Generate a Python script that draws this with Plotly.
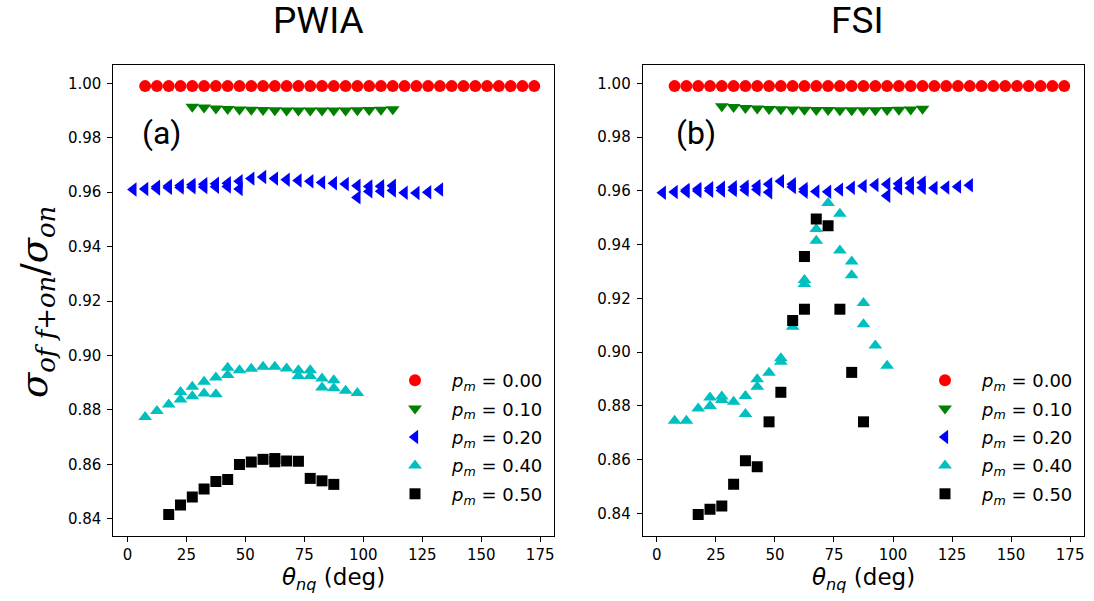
import plotly.graph_objects as go

# ---------------- data ----------------
red_x = [7.5, 12.5, 17.5, 22.5, 27.5, 32.5, 37.5, 42.5, 47.5, 52.5, 57.5, 62.5,
         67.5, 72.5, 77.5, 82.5, 87.5, 92.5, 97.5, 102.5, 107.5, 112.5, 117.5,
         122.5, 127.5, 132.5, 137.5, 142.5, 147.5, 152.5, 157.5, 162.5, 167.5, 172.5]
red_y_pwia = [0.999, 0.999, 0.999, 0.999, 0.999, 0.999, 0.999, 0.999, 0.999, 0.999,
              0.999, 0.999, 0.999, 0.999, 0.999, 0.999, 0.999, 0.999, 0.999, 0.999,
              0.999, 0.999, 0.999, 0.999, 0.999, 0.999, 0.999, 0.999, 0.999, 0.999,
              0.999, 0.999, 0.999, 0.999]
red_y_fsi = [0.999, 0.999, 0.999, 0.999, 0.999, 0.999, 0.999, 0.999, 0.999, 0.999,
             0.999, 0.999, 0.999, 0.999, 0.999, 0.999, 0.999, 0.999, 0.999, 0.999,
             0.999, 0.999, 0.999, 0.999, 0.999, 0.999, 0.999, 0.999, 0.999, 0.999,
             0.999, 0.999, 0.999, 0.999]

green_x = [27.5, 32.5, 37.5, 42.5, 47.5, 52.5, 57.5, 62.5, 67.5, 72.5, 77.5, 82.5,
           87.5, 92.5, 97.5, 102.5, 107.5, 112.5]
green_y_pwia = [0.9914, 0.9911, 0.9908, 0.9906, 0.9904, 0.9903, 0.9902, 0.9901, 0.9900,
                0.9900, 0.9900, 0.9900, 0.9900, 0.9900, 0.9901, 0.9902, 0.9903, 0.9905]
green_y_fsi = [0.9915, 0.9912, 0.9909, 0.9907, 0.9905, 0.9904, 0.9903, 0.9902, 0.9901,
               0.9901, 0.9900, 0.9900, 0.9900, 0.9900, 0.9901, 0.9902, 0.9903, 0.9906]

blue_x = [2.5, 7.5, 12.5, 12.5, 17.5, 17.5, 22.5, 22.5, 27.5, 27.5, 32.5, 32.5,
          37.5, 37.5, 42.5, 42.5, 47.5, 47.5, 52.5, 57.5, 62.5, 67.5, 72.5, 77.5,
          82.5, 87.5, 92.5, 97.5, 97.5, 102.5, 102.5, 107.5, 107.5, 112.5, 112.5,
          117.5, 122.5, 127.5, 132.5]
blue_y_pwia = [0.9610, 0.9612, 0.9614, 0.9620, 0.9616, 0.9623, 0.9617, 0.9625, 0.9618,
               0.9627, 0.9619, 0.9629, 0.9620, 0.9631, 0.9621, 0.9633, 0.9612, 0.9640,
               0.9650, 0.9656, 0.9650, 0.9646, 0.9643, 0.9640, 0.9636, 0.9633, 0.9630,
               0.9624, 0.9581, 0.9621, 0.9603, 0.9622, 0.9604, 0.9624, 0.9606, 0.9598,
               0.9597, 0.9600, 0.9610]
blue_x_fsi = [2.5, 7.5, 12.5, 12.5, 17.5, 17.5, 22.5, 22.5, 27.5, 27.5, 32.5, 32.5,
              37.5, 37.5, 42.5, 42.5, 47.5, 47.5, 52.5, 57.5, 57.5, 62.5, 62.5, 67.5,
              72.5, 77.5, 82.5, 87.5, 92.5, 97.5, 97.5, 102.5, 102.5, 107.5, 107.5,
              112.5, 112.5, 117.5, 122.5, 127.5, 132.5]
blue_y_fsi = [0.9593, 0.9596, 0.9598, 0.9604, 0.9600, 0.9607, 0.9601, 0.9610, 0.9602,
              0.9612, 0.9603, 0.9614, 0.9604, 0.9616, 0.9605, 0.9618, 0.9595, 0.9625,
              0.9636, 0.9625, 0.9615, 0.9607, 0.9597, 0.9598, 0.9597, 0.9605, 0.9612,
              0.9618, 0.9622, 0.9625, 0.9582, 0.9627, 0.9610, 0.9629, 0.9611, 0.9631,
              0.9612, 0.9611, 0.9613, 0.9616, 0.9621]

cyan_x_pwia = [7.5, 12.5, 17.5, 22.5, 22.5, 27.5, 27.5, 32.5, 32.5, 37.5, 37.5, 42.5,
               42.5, 47.5, 52.5, 57.5, 62.5, 67.5, 72.5, 72.5, 77.5, 77.5, 82.5, 82.5,
               87.5, 87.5, 92.5, 97.5]
cyan_y_pwia = [0.8774, 0.8796, 0.8820, 0.8838, 0.8866, 0.8850, 0.8885, 0.8860, 0.8903,
               0.8857, 0.8919, 0.8928, 0.8955, 0.8946, 0.8951, 0.8958, 0.8958, 0.8952,
               0.8946, 0.8924, 0.8946, 0.8924, 0.8915, 0.8882, 0.8909, 0.8879, 0.8870,
               0.8862]
cyan_x_fsi = [7.5, 12.5, 17.5, 22.5, 22.5, 27.5, 27.5, 32.5, 37.5, 37.5, 42.5, 42.5,
              47.5, 52.5, 52.5, 57.5, 62.5, 62.5, 67.5, 67.5, 72.5, 77.5, 77.5, 82.5,
              82.5, 87.5, 87.5, 92.5, 97.5]
cyan_y_fsi = [0.8745, 0.8745, 0.8791, 0.8832, 0.8800, 0.8835, 0.8822, 0.8816, 0.8837,
              0.8770, 0.8899, 0.8872, 0.8924, 0.8978, 0.8965, 0.9095, 0.9269, 0.9254,
              0.9458, 0.9415, 0.9555, 0.9515, 0.9378, 0.9338, 0.9286, 0.9183, 0.9104,
              0.9025, 0.8950]

black_x_pwia = [17.5, 22.5, 27.5, 32.5, 37.5, 42.5, 47.5, 52.5, 57.5, 62.5, 62.5, 67.5,
                72.5, 77.5, 82.5, 87.5]
black_y_pwia = [0.8415, 0.8450, 0.8480, 0.8509, 0.8537, 0.8544, 0.8599, 0.8608, 0.8618,
                0.8621, 0.8609, 0.8612, 0.8611, 0.8548, 0.8539, 0.8526]
black_x_fsi = [17.5, 22.5, 27.5, 32.5, 37.5, 42.5, 47.5, 52.5, 57.5, 62.5, 62.5, 67.5,
               72.5, 77.5, 82.5, 87.5]
black_y_fsi = [0.8396, 0.8416, 0.8428, 0.8509, 0.8596, 0.8574, 0.8741, 0.8851, 0.9118,
               0.9356, 0.9160, 0.9496, 0.9471, 0.9160, 0.8925, 0.8741]

legend_labels = ["<i>p</i><sub><i>m</i></sub> = 0.00", "<i>p</i><sub><i>m</i></sub> = 0.10",
                 "<i>p</i><sub><i>m</i></sub> = 0.20", "<i>p</i><sub><i>m</i></sub> = 0.40",
                 "<i>p</i><sub><i>m</i></sub> = 0.50"]
panel_titles = ["PWIA", "FSI"]
panel_tags = ["(a)", "(b)"]
x_ticks = [0, 25, 50, 75, 100, 125, 150, 175]
y_ticks = [0.84, 0.86, 0.88, 0.90, 0.92, 0.94, 0.96, 0.98, 1.00]

# ---------------- styles ----------------
colors = ["#ff0000", "#008000", "#0000ff", "#00bfbf", "#000000"]
symbols = ["circle", "triangle-down", "triangle-left", "triangle-up", "square"]
sizes = [12, 12, 12.5, 12, 11]

# page body margin is removed by a post-script, so the figure fills the window
W, H = 1094, 601
def px_x(p): return p / W
def px_y(p): return 1 - p / H

fig = go.Figure()

panels = [
    dict(series=[(red_x, red_y_pwia), (green_x, green_y_pwia), (blue_x, blue_y_pwia),
                 (cyan_x_pwia, cyan_y_pwia), (black_x_pwia, black_y_pwia)],
         xa="x", ya="y", legend="legend"),
    dict(series=[(red_x, red_y_fsi), (green_x, green_y_fsi), (blue_x_fsi, blue_y_fsi),
                 (cyan_x_fsi, cyan_y_fsi), (black_x_fsi, black_y_fsi)],
         xa="x2", ya="y2", legend="legend2"),
]

for pi, p in enumerate(panels):
    for i, (xs, ys) in enumerate(p["series"]):
        fig.add_trace(go.Scatter(
            x=xs, y=ys, mode="markers", name=legend_labels[i],
            xaxis=p["xa"], yaxis=p["ya"], legend=p["legend"],
            legendgroup=f"g{pi}{i}",
            marker=dict(symbol=symbols[i], color=colors[i], size=sizes[i],
                        line=dict(width=0)),
        ))

def yrange(series):
    allv = [v for _, ys in series for v in ys]
    lo, hi = min(allv), max(allv)
    m = (hi - lo) * 0.05
    return [lo - m, hi + m]

allx = [v for xs, _ in panels[0]["series"] for v in xs]
xm = (max(allx) - min(allx)) * 0.05
xr = [min(allx) - xm, max(allx) + xm]

tickfont = dict(family="DejaVu Sans", size=15, color="black")
axis_common = dict(showline=True, mirror=True, linecolor="black", linewidth=1,
                   ticks="outside", ticklen=5, tickwidth=1, tickcolor="black",
                   showgrid=False, zeroline=False, tickfont=tickfont, automargin=False)

dom_x1 = [px_x(113.3), px_x(554.3)]
dom_x2 = [px_x(642.7), px_x(1084.3)]
dom_y = [px_y(536), px_y(64.7)]

legend_font = dict(family="DejaVu Sans", size=18, color="black")
fig.update_layout(
    width=W, height=H,
    margin=dict(l=0, r=0, t=0, b=0, autoexpand=False),
    paper_bgcolor="white", plot_bgcolor="white",
    xaxis=dict(domain=dom_x1, range=xr, tickvals=x_ticks, anchor="y", **axis_common),
    yaxis=dict(domain=dom_y, range=yrange(panels[0]["series"]), tickvals=y_ticks,
               tickformat=".2f", anchor="x", ticklabelstandoff=3, **axis_common),
    xaxis2=dict(domain=dom_x2, range=xr, tickvals=x_ticks, anchor="y2", **axis_common),
    yaxis2=dict(domain=dom_y, range=yrange(panels[1]["series"]), tickvals=y_ticks,
                tickformat=".2f", anchor="x2", ticklabelstandoff=3, **axis_common),
    showlegend=True,
    legend=dict(x=px_x(378), y=px_y(362), xanchor="left", yanchor="top",
                font=legend_font, bgcolor="rgba(0,0,0,0)", borderwidth=0,
                tracegroupgap=2, itemwidth=64, traceorder="grouped"),
    legend2=dict(x=px_x(908), y=px_y(362), xanchor="left", yanchor="top",
                 font=legend_font, bgcolor="rgba(0,0,0,0)", borderwidth=0,
                 tracegroupgap=2, itemwidth=64, traceorder="grouped"),
)

annotations = []
# panel titles
for t, cx in zip(panel_titles, [318, 857]):
    annotations.append(dict(text=t, x=px_x(cx), y=px_y(21), xref="paper", yref="paper",
                            xanchor="center", yanchor="middle", showarrow=False,
                            font=dict(family="Roboto", size=37, color="black")))
# panel tags (a), (b)
for t, xa, ya, xv in zip(panel_tags, ["x", "x2"], ["y", "y2"], [14.7, 16.5]):
    annotations.append(dict(text=t, x=xv, y=0.9817, xref=xa, yref=ya,
                            xanchor="center", yanchor="middle", showarrow=False,
                            font=dict(family="Roboto", size=32, color="black")))
# x axis titles
for cx in [333.8, 863.5]:
    annotations.append(dict(text="<i>θ</i><sub><i>nq</i></sub> (deg)", x=px_x(cx), y=px_y(579),
                            xref="paper", yref="paper", xanchor="center", yanchor="middle",
                            showarrow=False,
                            font=dict(family="DejaVu Sans", size=23, color="black")))
# y axis title
annotations.append(dict(text="<i>σ<sub>of f+on</sub></i>/<i>σ<sub>on</sub></i>",
                        x=px_x(37), y=px_y(302), xref="paper", yref="paper",
                        xanchor="center", yanchor="middle", showarrow=False, textangle=-90,
                        font=dict(family="DejaVu Serif", size=37, color="black")))
fig.update_layout(annotations=annotations)

fig.write_html("out.html", config={"displayModeBar": False},
               post_script="document.body.style.margin='0';document.body.style.overflow='hidden';")
